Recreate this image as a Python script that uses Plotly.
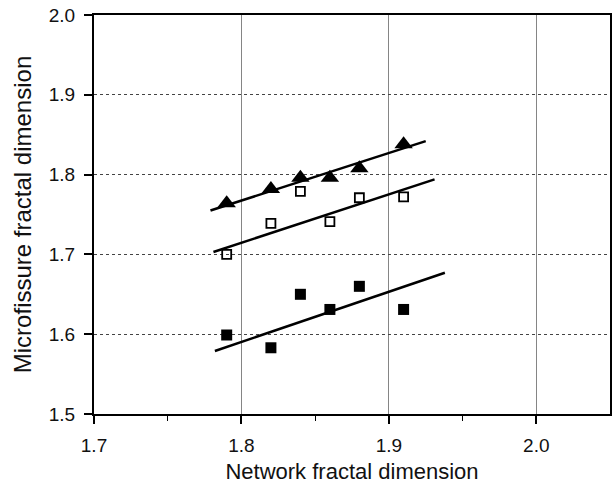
import plotly.graph_objects as go

# Network fractal dimension (x) for each specimen
network_x = [1.79, 1.82, 1.84, 1.86, 1.88, 1.91]

# Microfissure fractal dimension, three series
tri_y = [1.764, 1.782, 1.796, 1.796, 1.808, 1.838]
open_sq_y = [1.700, 1.739, 1.779, 1.741, 1.771, 1.772]
filled_sq_y = [1.599, 1.583, 1.650, 1.631, 1.660, 1.631]

# Fitted lines (end points)
tri_fit_x = [1.779, 1.925]
tri_fit_y = [1.755, 1.842]
open_fit_x = [1.781, 1.931]
open_fit_y = [1.703, 1.794]
filled_fit_x = [1.782, 1.938]
filled_fit_y = [1.579, 1.677]

x_ticks = [1.7, 1.8, 1.9, 2.0]
y_ticks = [1.5, 1.6, 1.7, 1.8, 1.9, 2.0]

FONT = "Liberation Sans, Arial, sans-serif"

fig = go.Figure()

for fx, fy in [(tri_fit_x, tri_fit_y), (open_fit_x, open_fit_y), (filled_fit_x, filled_fit_y)]:
    fig.add_trace(go.Scatter(x=fx, y=fy, mode="lines",
                             line=dict(color="black", width=2.5), showlegend=False))

fig.add_trace(go.Scatter(x=network_x, y=tri_y, mode="markers", showlegend=False,
                         marker=dict(symbol="triangle-up", size=16, color="black",
                                     line=dict(width=0))))
fig.add_trace(go.Scatter(x=network_x, y=open_sq_y, mode="markers", showlegend=False,
                         marker=dict(symbol="square-open", size=9, color="black",
                                     line=dict(width=1.8, color="black"))))
fig.add_trace(go.Scatter(x=network_x, y=filled_sq_y, mode="markers", showlegend=False,
                         marker=dict(symbol="square", size=11, color="black",
                                     line=dict(width=0))))

fig.update_layout(
    width=613, height=490,
    margin=dict(l=94, r=1, t=15, b=76),
    paper_bgcolor="white", plot_bgcolor="white",
    font=dict(family=FONT, size=19, color="#111"),
    xaxis=dict(
        range=[1.7, 2.05], tickvals=x_ticks, ticktext=[f"{v:.1f}" for v in x_ticks],
        showgrid=True, gridcolor="#858585", gridwidth=1,
        showline=True, linecolor="black", linewidth=2, mirror=True,
        ticks="outside", ticklen=8, tickwidth=1.5, tickcolor="black",
        ticklabelstandoff=5,
        minor=dict(tickvals=[1.75, 1.85, 1.95], ticks="outside", ticklen=5,
                   tickwidth=1.2, tickcolor="black", showgrid=False),
        zeroline=False,
        title=dict(text="Network fractal dimension", font=dict(size=22), standoff=9),
    ),
    yaxis=dict(
        range=[1.5, 2.0], tickvals=y_ticks, ticktext=[f"{v:.1f}" for v in y_ticks],
        showgrid=True, gridcolor="#444", gridwidth=1, griddash="dot",
        showline=True, linecolor="black", linewidth=2, mirror=True,
        ticks="outside", ticklen=8, tickwidth=1.5, tickcolor="black",
        ticklabelstandoff=5,
        zeroline=False,
        title=dict(text="Microfissure fractal dimension", font=dict(size=24), standoff=10),
    ),
)

fig.write_html("out.html")
